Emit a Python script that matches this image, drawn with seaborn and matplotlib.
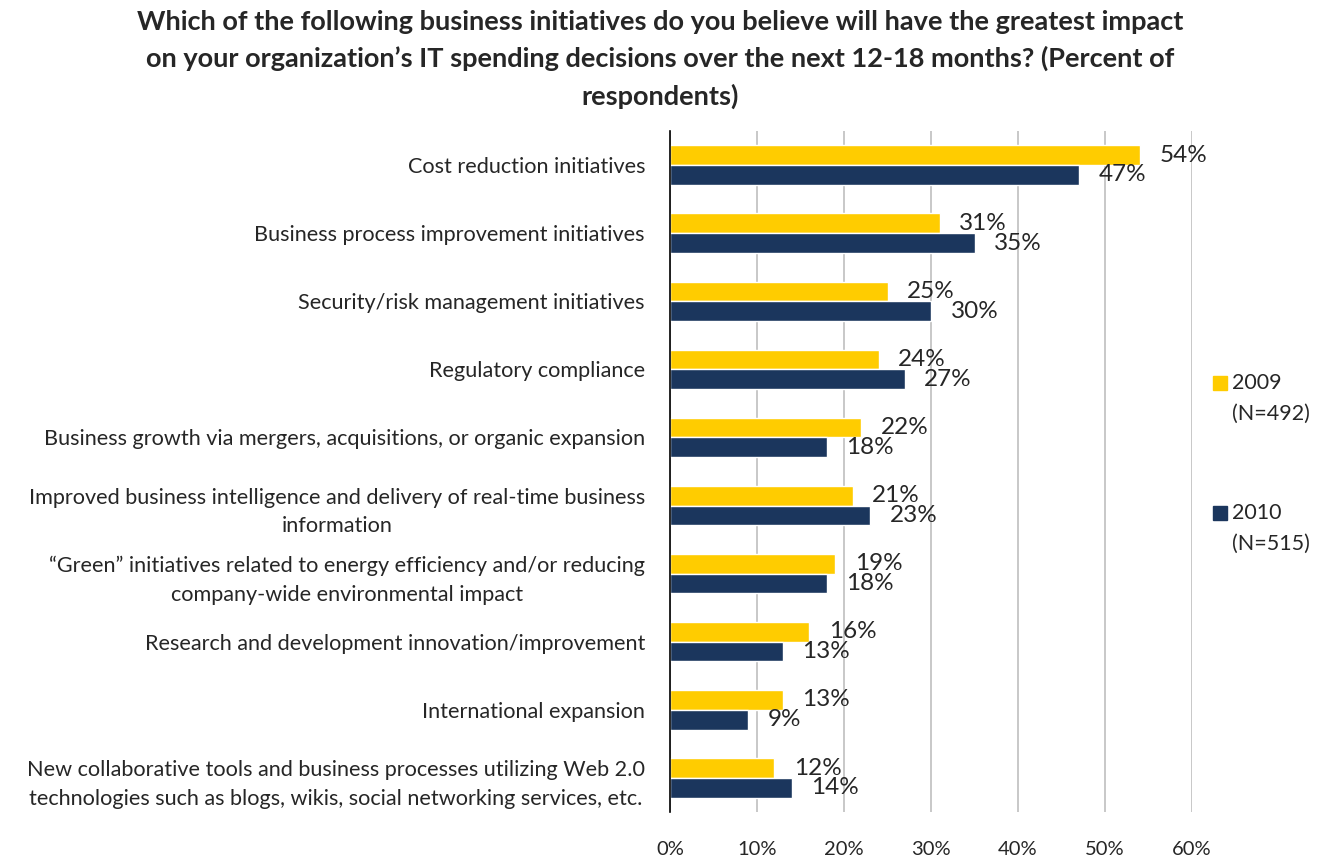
import matplotlib
matplotlib.use("Agg")
import matplotlib.pyplot as plt
import seaborn as sns
import pandas as pd
from matplotlib.patches import Rectangle

categories = [
    "Cost reduction initiatives",
    "Business process improvement initiatives",
    "Security/risk management initiatives",
    "Regulatory compliance",
    "Business growth via mergers, acquisitions, or organic expansion",
    "Improved business intelligence and delivery of real-time business\ninformation",
    "\u201cGreen\u201d initiatives related to energy efficiency and/or reducing\ncompany-wide environmental impact",
    "Research and development innovation/improvement",
    "International expansion",
    "New collaborative tools and business processes utilizing Web 2.0\ntechnologies such as blogs, wikis, social networking services, etc.",
]
values_2009 = [54, 31, 25, 24, 22, 21, 19, 16, 13, 12]
values_2010 = [47, 35, 30, 27, 18, 23, 18, 13, 9, 14]
series_names = ["2009", "2010"]
legend_notes = ["(N=492)", "(N=515)"]
x_ticks = [0, 10, 20, 30, 40, 50, 60]
title = ("Which of the following business initiatives do you believe will have the greatest impact\n"
         "on your organization\u2019s IT spending decisions over the next 12-18 months? (Percent of\n"
         "respondents)")

colors = ["#FFCC00", "#1B365D"]

df = pd.DataFrame({
    "category": categories * 2,
    "value": values_2009 + values_2010,
    "year": [series_names[0]] * len(categories) + [series_names[1]] * len(categories),
})

sns.set_style("white")
plt.rcParams["font.family"] = ["Lato", "DejaVu Sans"]

fig = plt.figure(figsize=(13.2, 8.57), dpi=100)
ax = fig.add_axes([670 / 1320, 1 - 812 / 857, (1192 - 670) / 1320, (812 - 131) / 857])

sns.barplot(data=df, x="value", y="category", hue="year", order=categories,
            hue_order=series_names, palette=colors, orient="h", width=0.58,
            saturation=1, ax=ax, legend=False)

ax.set_xlim(0, 60)
ax.set_ylim(len(categories) - 0.5, -0.5)
ax.set_xticks(x_ticks)
ax.set_xticklabels([f"{t}%" for t in x_ticks], fontsize=14.5)
ax.set_xlabel("")
ax.set_ylabel("")
ax.tick_params(axis="x", length=0, pad=21)
ax.tick_params(axis="y", which="major", length=0, pad=18, labelsize=15.6)
ax.set_yticks([i - 0.5 for i in range(len(categories) + 1)], minor=True)
ax.tick_params(axis="y", which="minor", length=8, width=1.2, color="#404040", direction="out")
for lab in ax.get_yticklabels():
    lab.set_multialignment("center")
    lab.set_linespacing(1.55)

ax.grid(axis="x", color="#BFBFBF", linewidth=1.2)
ax.set_axisbelow(True)
for s in ["top", "right", "bottom"]:
    ax.spines[s].set_visible(False)
ax.spines["left"].set_color("black")
ax.spines["left"].set_linewidth(1.2)

for container in ax.containers:
    ax.bar_label(container, labels=[f"{v:.0f}%" for v in container.datavalues],
                 padding=14, fontsize=17.5, clip_on=False)

fig.text(0.5, 0.988, title, ha="center", va="top", fontsize=19.5, fontweight="bold",
         linespacing=1.56)

# legend
leg_y = [383, 513]
for i, name in enumerate(series_names):
    y = 1 - leg_y[i] / 857
    fig.add_artist(Rectangle((1213 / 1320, y - 7 / 857), 14 / 1320, 14 / 857,
                             transform=fig.transFigure, color=colors[i]))
    fig.text(1232 / 1320, y, name, fontsize=15.5, va="center", ha="left")
    fig.text(1232 / 1320, y - 31 / 857, legend_notes[i], fontsize=15.5, va="center", ha="left")

fig.savefig("out.png", dpi=100)
